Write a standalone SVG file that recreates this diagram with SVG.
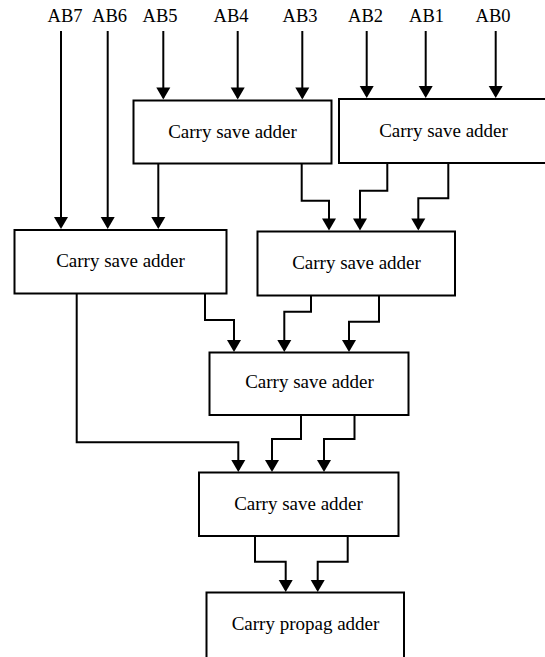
<svg xmlns="http://www.w3.org/2000/svg" width="545" height="657" viewBox="0 0 545 657">
  <defs>
    <marker id="arrow" markerUnits="userSpaceOnUse" markerWidth="14" markerHeight="16" viewBox="0 -8 12 16" refX="10" refY="0" orient="auto">
      <path d="M0,-7 L12,0 L0,7 z" fill="#000"/>
    </marker>
    <style>
      .box { fill: #fff; stroke: #000; stroke-width: 2; }
      text { font-family: 'Liberation Serif', 'Times New Roman', Times, serif; text-anchor: middle; fill: #000; }
      .lbl { font-size: 18.5px; }
      .txt { font-size: 19px; }
      .wire { fill: none; stroke: #000; stroke-width: 2; marker-end: url(#arrow); }
    </style>
  </defs>

  <rect width="545" height="657" fill="#fff"/>

  <!-- operand labels -->
  <g id="inputs" font-family="Liberation Serif, Times New Roman, serif">
    <text class="lbl" x="65" y="21.5">AB7</text>
    <text class="lbl" x="109.5" y="21.5">AB6</text>
    <text class="lbl" x="160" y="21.5">AB5</text>
    <text class="lbl" x="231" y="21.5">AB4</text>
    <text class="lbl" x="300" y="21.5">AB3</text>
    <text class="lbl" x="365.5" y="21.5">AB2</text>
    <text class="lbl" x="426.5" y="21.5">AB1</text>
    <text class="lbl" x="493" y="21.5">AB0</text>
  </g>

  <!-- adder blocks -->
  <g id="csa1">
    <rect class="box" x="133.5" y="100.5" width="198" height="63"/>
    <text class="txt" x="232.5" y="137.5">Carry save adder</text>
  </g>
  <g id="csa2">
    <rect class="box" x="339" y="99" width="212" height="64"/>
    <text class="txt" x="443.5" y="136.5">Carry save adder</text>
  </g>
  <g id="csa3">
    <rect class="box" x="14.5" y="230" width="212" height="63.5"/>
    <text class="txt" x="120.5" y="266.7">Carry save adder</text>
  </g>
  <g id="csa4">
    <rect class="box" x="257.5" y="231.5" width="197.5" height="64"/>
    <text class="txt" x="356.5" y="269">Carry save adder</text>
  </g>
  <g id="csa5">
    <rect class="box" x="209.5" y="352.5" width="199" height="62.5"/>
    <text class="txt" x="309.5" y="388.3">Carry save adder</text>
  </g>
  <g id="csa6">
    <rect class="box" x="199" y="472.5" width="199.5" height="63.5"/>
    <text class="txt" x="298.5" y="510">Carry save adder</text>
  </g>
  <g id="cpa">
    <rect class="box" x="206.5" y="592.5" width="197.5" height="80"/>
    <text class="txt" x="305.5" y="630">Carry propag adder</text>
  </g>

  <!-- connectors -->
  <g id="connectors">
    <path class="wire" d="M61,31 V227"/>
    <path class="wire" d="M107.7,31 V227"/>
    <path class="wire" d="M163.3,31 V97.5"/>
    <path class="wire" d="M237.7,31 V97.5"/>
    <path class="wire" d="M302.3,31 V97.5"/>
    <path class="wire" d="M366.7,31 V96"/>
    <path class="wire" d="M425.7,31 V96"/>
    <path class="wire" d="M495.7,31 V96"/>

    <path class="wire" d="M158.3,164 V227"/>
    <path class="wire" d="M301.7,164 V200.7 H329 V228.5"/>
    <path class="wire" d="M387.3,163 V190.7 H360 V228.5"/>
    <path class="wire" d="M448.3,163 V198.3 H418.3 V228.5"/>

    <path class="wire" d="M76.7,293.5 V442.3 H238.3 V470"/>
    <path class="wire" d="M205,293.5 V320 H234 V350"/>
    <path class="wire" d="M311,295.5 V311.7 H284.3 V350"/>
    <path class="wire" d="M379,295.5 V321.7 H349 V350"/>

    <path class="wire" d="M301,415 V439 H272 V470"/>
    <path class="wire" d="M354.5,415 V439 H324 V470"/>

    <path class="wire" d="M255,536 V561.7 H285.7 V590"/>
    <path class="wire" d="M347.7,536 V561.7 H317.7 V590"/>
  </g>
</svg>
